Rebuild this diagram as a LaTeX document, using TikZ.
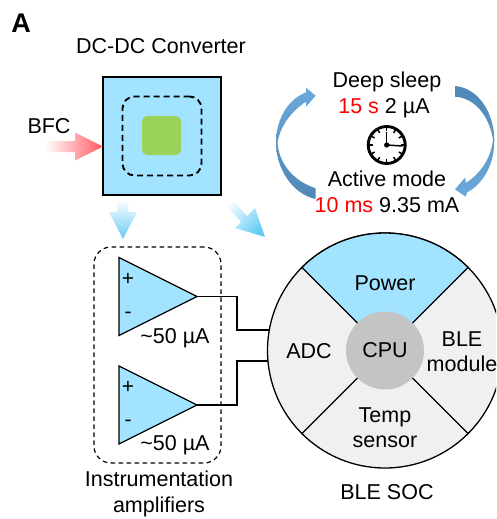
\documentclass[tikz,border=0pt]{standalone}
\usepackage{fontspec}
\setmainfont{Liberation Sans}
\usetikzlibrary{shapes.geometric}
\definecolor{skyb}{HTML}{A2E4FF}
\definecolor{leaf}{HTML}{9BD25A}
\definecolor{pale}{HTML}{F0F0F0}
\definecolor{cpug}{HTML}{C4C4C4}
\definecolor{arrred}{HTML}{FF5A62}
\definecolor{arrblue}{HTML}{66CBF4}
\definecolor{cycl}{HTML}{6AA9DC}
\definecolor{cycd}{HTML}{4F86B5}
\tikzset{
  x=1pt,y=-1pt,
  lab/.style={font=\fontsize{21.5}{25.3}\selectfont,inner sep=0,outer sep=0,anchor=base,text=black},
  mlab/.style={font=\fontsize{21.5}{25.3}\selectfont,inner sep=0,outer sep=0,anchor=center,align=center,text=black},
  sign/.style={font=\fontsize{21}{24}\selectfont,inner sep=0,outer sep=0,anchor=base},
  amp/.style={isosceles triangle,isosceles triangle stretches,draw=black,fill=skyb,line width=1.3pt,
    minimum width=78pt,minimum height=78pt,inner sep=0,outer sep=0,anchor=apex},
  wire/.style={draw=black,line width=1.6pt},
  divider/.style={draw=black,line width=1.4pt},
  dashbox/.style={draw=black,dashed,rounded corners},
}
\begin{document}
\begin{tikzpicture}
\clip (0,0) rectangle (496,519);
\fill[white] (0,0) rectangle (496,519);

\node[lab,font=\fontsize{27}{30}\selectfont\bfseries] (panel) at (21,33) {A};
\node[lab] (convt) at (161,54) {DC-DC Converter};

% converter
\node[draw=black,line width=1.5pt,fill=skyb,minimum size=118pt,inner sep=0,outer sep=0] (conv) at (162,136) {};
\node[dashbox,line width=1.9pt,dash pattern=on 6pt off 4pt,rounded corners=12pt,minimum size=79pt,inner sep=0,outer sep=0] (inner) at (162,136) {};
\node[fill=leaf,rounded corners=5pt,minimum size=39pt,inner sep=0,outer sep=0] (core) at (161.5,135.5) {};

% power arrows
\node[lab] (bfc) at (49,133) {BFC};
\shade[left color=white,right color=arrred]
  (45,141) -- (75,141) -- (75,132.5) -- (103,146.5) -- (75,160.5) -- (75,152) -- (45,152) -- cycle;
\shade[top color=white,bottom color=arrblue]
  (117,200) -- (128,200) -- (128,212) -- (137,212) -- (123,239) -- (109,212) -- (117,212) -- cycle;
\shade[top color=white,bottom color=arrblue,shading angle=45]
  (222,200) -- (228,196) -- (247,216) -- (255,208) -- (265,237) -- (235,228) -- (241,222) -- cycle;

% duty cycle
\node[lab] (sleep) at (387,87) {Deep sleep};
\node[lab] (sleepv) at (384,113) {\textcolor{red}{15 s} 2 µA};
\node[lab] (active) at (387,186) {Active mode};
\node[lab] (activev) at (387,212) {\textcolor{red}{10 ms} 9.35 mA};
\shade[top color=cycl,bottom color=cycd]
  (306,92.3) .. controls (287,100) and (276,120) .. (276,143)
  .. controls (276,168) and (292,194) .. (315.7,199) -- (315.7,188.3)
  .. controls (293,181) and (279,163) .. (277.5,143)
  .. controls (279.5,128) and (290,112) .. (306,101.7) -- (306,106.7) -- (315.7,95.7) -- (306,87.7) -- cycle;
\shade[top color=cycd,bottom color=cycl]
  (455,86) .. controls (478,88) and (494,112) .. (494.3,140)
  .. controls (494.3,165) and (483,184) .. (467,192.5) -- (465.7,196.7) -- (455,189.3) -- (465,177.7) -- (466,183)
  .. controls (481,173) and (491,158) .. (493,140)
  .. controls (490,118) and (476,98) .. (455,96.7) -- cycle;
\node[circle,draw=black,line width=2.9pt,minimum size=37pt,inner sep=0,outer sep=0] (clock) at (386.7,145) {};
\foreach \a in {0,30,...,330}
  \draw[line width=1.5pt] ([shift={(\a:14pt)}]clock.center) -- ([shift={(\a:18pt)}]clock.center);
\draw[line width=1.5pt] (clock.center) -- ++(0,-13);
\draw[line width=1.5pt] (clock.center) -- ++(16,1);
\fill (clock.center) circle[radius=2.6pt];

% SOC
\node[circle,draw=black,line width=1.3pt,fill=pale,minimum size=235pt,inner sep=0,outer sep=0] (soc) at (385,350.5) {};
\fill[skyb] (soc.center) -- (soc.135) arc[start angle=135,end angle=45,radius=117.5pt] -- cycle;
\draw[line width=1.3pt] (soc.135) arc[start angle=135,end angle=45,radius=117.5pt];
\node[circle,fill=cpug,minimum size=78pt,inner sep=0,outer sep=0,
  font=\fontsize{21.5}{25}\selectfont] (cpu) at (385,350.5) {CPU};
\foreach \a in {45,135,225,315}
  \draw[divider] (cpu.\a) -- (soc.\a);
\node[lab] (power) at (385,290.7) {Power};
\node[lab] (adc) at (309,358) {ADC};
\node[mlab] (blem) at (462,352) {BLE\\module};
\node[mlab] (temp) at (385,428) {Temp\\sensor};
\node[lab] (soct) at (387,499) {BLE SOC};

% amplifiers
\node[dashbox,line width=1.2pt,dash pattern=on 4.5pt off 3.5pt,rounded corners=17pt,minimum width=127pt,minimum height=216pt,inner sep=0,outer sep=0] (ampbox) at (157.5,355) {};
\node[amp] (amp1) at (197,296.5) {};
\node[amp] (amp2) at (197,405) {};
\node[sign] (p1) at (128,285.5) {+};
\node[sign] (m1) at (128,318) {-};
\node[sign] (p2) at (128,393.5) {+};
\node[sign] (m2) at (128,426) {-};
\node[lab] (cur1) at (175,343.5) {\textasciitilde 50 µA};
\node[lab] (cur2) at (175,450.5) {\textasciitilde 50 µA};
\node[mlab] (ampt) at (159,494) {Instrumentation\\amplifiers};

\coordinate (j1) at (236.7,296.5);
\coordinate (j2) at (236.7,405);
\draw[wire] (amp1.apex) -- (j1) |- (soc.170.9);
\draw[wire] (amp2.apex) -- (j2) |- (soc.185.6);
\end{tikzpicture}
\end{document}
